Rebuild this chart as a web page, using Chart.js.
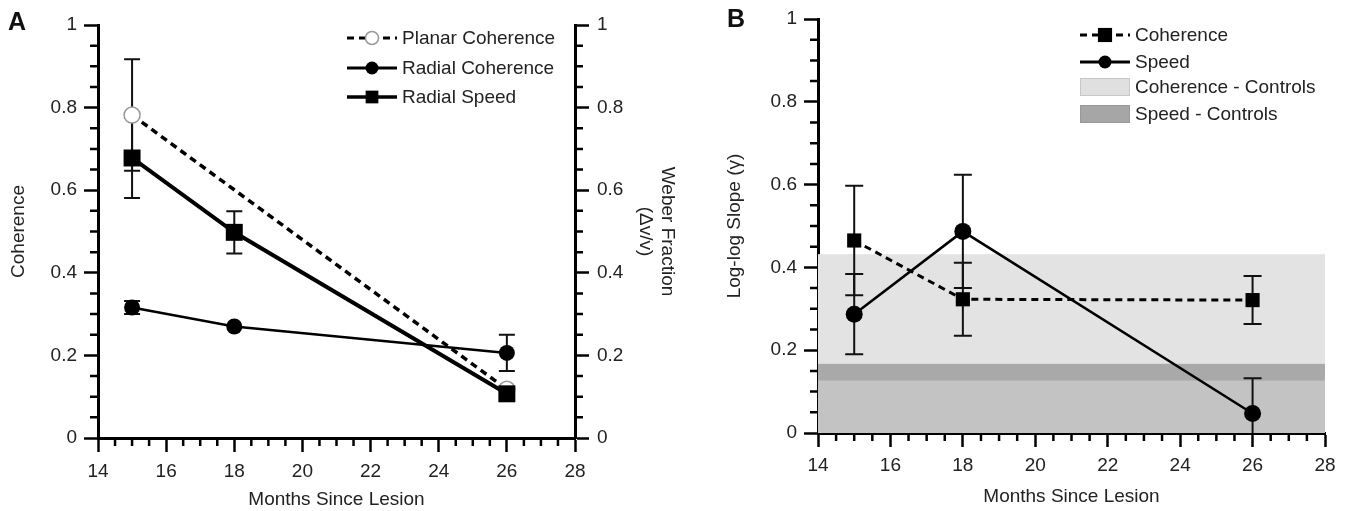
<!DOCTYPE html>
<html>
<head>
<meta charset="utf-8">
<script src="https://cdn.jsdelivr.net/npm/chart.js@4.4.0/dist/chart.umd.min.js"></script>
<style>
  body { margin: 0; background: #fff; width: 1346px; height: 511px; overflow: hidden; position: relative; font-family: 'Liberation Sans', Arial, sans-serif; }
  #wrapA { position: absolute; left: 0; top: 0; width: 690px; height: 511px; }
  #wrapB { position: absolute; left: 690px; top: 0; width: 656px; height: 511px; }
  .tag { position: absolute; font-weight: bold; font-size: 25px; color: #111; line-height: 1; }
</style>
</head>
<body>
<div id="wrapA"><canvas id="chartA"></canvas></div>
<div id="wrapB"><canvas id="chartB"></canvas></div>
<div class="tag" style="left:8px;top:9px">A</div>
<div class="tag" style="left:727px;top:6px">B</div>
<script>
// ---- data ----
const months = [15, 18, 26];
const planarMonths = [15, 26];

// panel A
const planarCoherence = [0.782, 0.118];
const planarCoherenceErr = [0.135, 0];
const radialCoherence = [0.316, 0.27, 0.206];
const radialCoherenceErr = [0.016, 0, 0.044];
const radialSpeed = [0.678, 0.498, 0.107];
const radialSpeedErr = [0.097, 0.051, 0];

// panel B
const slopeCoherence = [0.465, 0.323, 0.321];
const slopeCoherenceErr = [0.132, 0.088, 0.058];
const slopeSpeed = [0.287, 0.487, 0.047];
const slopeSpeedErr = [0.097, 0.137, 0.085];
const coherenceControls = [0, 0.432];
const speedControls = [0.126, 0.167];
const lowerShade = [0, 0.126];

const FONT = "'Liberation Sans', Arial, sans-serif";
const TXT = '#222';

function pts(xs, ys) {
  return xs.map((x, i) => ({ x: x, y: ys[i] }));
}

function marker(ctx, style, x, y, r, fill, stroke, bw) {
  ctx.beginPath();
  if (style === 'rect') {
    const s = r * Math.SQRT1_2;
    ctx.rect(x - s, y - s, 2 * s, 2 * s);
  } else {
    ctx.arc(x, y, r, 0, Math.PI * 2);
  }
  ctx.fillStyle = fill;
  ctx.fill();
  if (bw) {
    ctx.lineWidth = bw;
    ctx.strokeStyle = stroke;
    ctx.stroke();
  }
}

// bands, error bars, minor ticks and the legend
const extras = {
  id: 'extras',
  beforeDatasetsDraw(chart, args, opts) {
    const { ctx, chartArea: a, scales: { x, y } } = chart;
    ctx.save();
    ctx.beginPath();
    ctx.rect(a.left, a.top, a.right - a.left, a.bottom - a.top);
    ctx.clip();
    (opts.bands || []).forEach(b => {
      const top = y.getPixelForValue(b.range[1]);
      const bot = y.getPixelForValue(b.range[0]);
      ctx.fillStyle = b.color;
      ctx.fillRect(a.left, top, x.getPixelForValue(x.max) - a.left, bot - top);
    });
    ctx.strokeStyle = '#111';
    ctx.lineWidth = 2;
    chart.data.datasets.forEach(ds => {
      if (!ds.errors) return;
      ds.data.forEach((p, j) => {
        const e = ds.errors[j];
        if (!e) return;
        const px = x.getPixelForValue(p.x);
        const hi = y.getPixelForValue(p.y + e);
        const lo = y.getPixelForValue(p.y - e);
        ctx.beginPath();
        ctx.moveTo(px, hi); ctx.lineTo(px, lo);
        ctx.moveTo(px - opts.cap, hi); ctx.lineTo(px + opts.cap, hi);
        ctx.moveTo(px - opts.cap, lo); ctx.lineTo(px + opts.cap, lo);
        ctx.stroke();
      });
    });
    ctx.restore();
  },
  afterDraw(chart, args, opts) {
    const { ctx, chartArea: a, scales } = chart;
    ctx.save();
    // minor ticks
    ctx.strokeStyle = '#000';
    ctx.lineWidth = 2.5;
    ctx.beginPath();
    for (let k = 29; k < 56; k++) {
      if (k % 4 === 0) continue;
      const px = scales.x.getPixelForValue(k / 2);
      ctx.moveTo(px, a.bottom);
      ctx.lineTo(px, a.bottom + opts.minor);
    }
    for (let k = 1; k < 20; k++) {
      if (k % 4 === 0) continue;
      const py = scales.y.getPixelForValue(k * 0.05);
      ctx.moveTo(a.left, py);
      ctx.lineTo(a.left - opts.minor, py);
      if (scales.y1) {
        ctx.moveTo(a.right, py);
        ctx.lineTo(a.right + opts.minor, py);
      }
    }
    ctx.stroke();

    // legend
    const lg = opts.legend;
    ctx.font = '19px ' + FONT;
    ctx.textBaseline = 'middle';
    lg.items.forEach((it, i) => {
      const cy = lg.y0 + lg.dy[i];
      if (it.ds !== undefined) {
        const ds = chart.data.datasets[it.ds];
        ctx.beginPath();
        ctx.setLineDash(ds.borderDash || []);
        ctx.lineWidth = it.lw;
        ctx.strokeStyle = ds.borderColor;
        ctx.moveTo(lg.x, cy);
        ctx.lineTo(lg.x + lg.w, cy);
        ctx.stroke();
        ctx.setLineDash([]);
        marker(ctx, ds.pointStyle, lg.x + lg.w / 2, cy, it.r,
          ds.pointBackgroundColor, ds.pointBorderColor, ds.pointBorderWidth);
      } else {
        ctx.fillStyle = it.fill;
        ctx.fillRect(lg.x, cy - 9, lg.w, 18);
        ctx.lineWidth = 1;
        ctx.strokeStyle = it.stroke;
        ctx.strokeRect(lg.x + 0.5, cy - 8.5, lg.w - 1, 17);
      }
      ctx.fillStyle = TXT;
      ctx.fillText(it.text, lg.textX, cy + 1);
    });
    ctx.restore();
  }
};

function xAxis(height, tickPad, titlePad) {
  return {
    type: 'linear', position: 'bottom', min: 14, max: 28,
    ticks: { stepSize: 2, font: { family: FONT, size: 19 }, color: TXT, padding: tickPad, maxRotation: 0 },
    grid: { drawOnChartArea: false, tickLength: 14, tickWidth: 2.5, tickColor: '#000' },
    border: { color: '#000', width: 3 },
    title: { display: true, text: 'Months Since Lesion', font: { family: FONT, size: 19 }, color: TXT, padding: { top: 0, bottom: titlePad } },
    afterFit(s) { s.height = height; }
  };
}

function yAxis(pos, width, text, titlePad, tickPad) {
  return {
    type: 'linear', position: pos, min: 0, max: 1,
    ticks: {
      stepSize: 0.2, font: { family: FONT, size: 19 }, color: TXT, padding: tickPad,
      callback: v => String(Math.round(v * 100) / 100)
    },
    grid: { drawOnChartArea: false, tickLength: 14, tickWidth: 2.5, tickColor: '#000' },
    border: { color: '#000', width: 3 },
    title: { display: true, text: text, font: { family: FONT, size: 19 }, color: TXT, padding: { top: titlePad, bottom: 0 } },
    afterFit(s) { s.width = width; }
  };
}

new Chart(document.getElementById('chartA'), {
  type: 'line',
  data: {
    datasets: [{
      label: 'Radial Speed',
      data: pts(months, radialSpeed),
      errors: radialSpeedErr,
      borderColor: '#000', borderWidth: 4,
      pointStyle: 'rect', pointRadius: 12,
      pointBackgroundColor: '#000', pointBorderColor: '#000', pointBorderWidth: 0,
      order: 0
    }, {
      label: 'Radial Coherence',
      data: pts(months, radialCoherence),
      errors: radialCoherenceErr,
      borderColor: '#000', borderWidth: 2.5,
      pointStyle: 'circle', pointRadius: 8,
      pointBackgroundColor: '#000', pointBorderColor: '#000', pointBorderWidth: 0,
      order: 1
    }, {
      label: 'Planar Coherence',
      data: pts(planarMonths, planarCoherence),
      errors: planarCoherenceErr,
      borderColor: '#000', borderWidth: 3.5, borderDash: [7, 5],
      pointStyle: 'circle', pointRadius: 8,
      pointBackgroundColor: '#fff', pointBorderColor: '#999', pointBorderWidth: 1.5,
      order: 2
    }]
  },
  options: {
    responsive: true,
    maintainAspectRatio: false,
    animation: false,
    events: [],
    layout: { padding: { top: 25, left: 0, right: 0, bottom: 0 } },
    elements: { line: { tension: 0 } },
    plugins: {
      legend: { display: false },
      tooltip: { enabled: false },
      extras: {
        cap: 8,
        minor: 8,
        legend: {
          x: 347, w: 50, textX: 402, y0: 38, dy: [0, 30, 59],
          items: [
            { ds: 2, lw: 3, r: 6.5, text: 'Planar Coherence' },
            { ds: 1, lw: 3, r: 6.5, text: 'Radial Coherence' },
            { ds: 0, lw: 3.5, r: 9, text: 'Radial Speed' }
          ]
        }
      }
    },
    scales: {
      x: xAxis(73, 8, 0),
      y: yAxis('left', 98, 'Coherence', 7, 7),
      y1: yAxis('right', 115, ['Weber Fraction', '(\u0394v/v)'], 11, 8)
    }
  },
  plugins: [extras]
});

new Chart(document.getElementById('chartB'), {
  type: 'line',
  data: {
    datasets: [{
      label: 'Speed',
      data: pts(months, slopeSpeed),
      errors: slopeSpeedErr,
      borderColor: '#000', borderWidth: 2.5,
      pointStyle: 'circle', pointRadius: 8.5,
      pointBackgroundColor: '#000', pointBorderColor: '#000', pointBorderWidth: 0,
      order: 0
    }, {
      label: 'Coherence',
      data: pts(months, slopeCoherence),
      errors: slopeCoherenceErr,
      borderColor: '#000', borderWidth: 3, borderDash: [7, 5],
      pointStyle: 'rect', pointRadius: 10,
      pointBackgroundColor: '#000', pointBorderColor: '#000', pointBorderWidth: 0,
      order: 1
    }]
  },
  options: {
    responsive: true,
    maintainAspectRatio: false,
    animation: false,
    events: [],
    layout: { padding: { top: 19, left: 0, right: 21, bottom: 0 } },
    elements: { line: { tension: 0 } },
    plugins: {
      legend: { display: false },
      tooltip: { enabled: false },
      extras: {
        cap: 9,
        minor: 8,
        bands: [
          { range: coherenceControls, color: '#e3e3e3' },
          { range: speedControls, color: '#a9a9a9' },
          { range: lowerShade, color: '#c3c3c3' }
        ],
        legend: {
          x: 390, w: 50, textX: 445, y0: 35, dy: [0, 27, 52, 79],
          items: [
            { ds: 1, lw: 3, r: 10, text: 'Coherence' },
            { ds: 0, lw: 3, r: 6.5, text: 'Speed' },
            { fill: '#e0e0e0', stroke: '#c8c8c8', text: 'Coherence - Controls' },
            { fill: '#a6a6a6', stroke: '#989898', text: 'Speed - Controls' }
          ]
        }
      }
    },
    scales: {
      x: xAxis(78, 7, 3),
      y: yAxis('left', 128, 'Log-log Slope (\u03b3)', 33, 7)
    }
  },
  plugins: [extras]
});
</script>
</body>
</html>
